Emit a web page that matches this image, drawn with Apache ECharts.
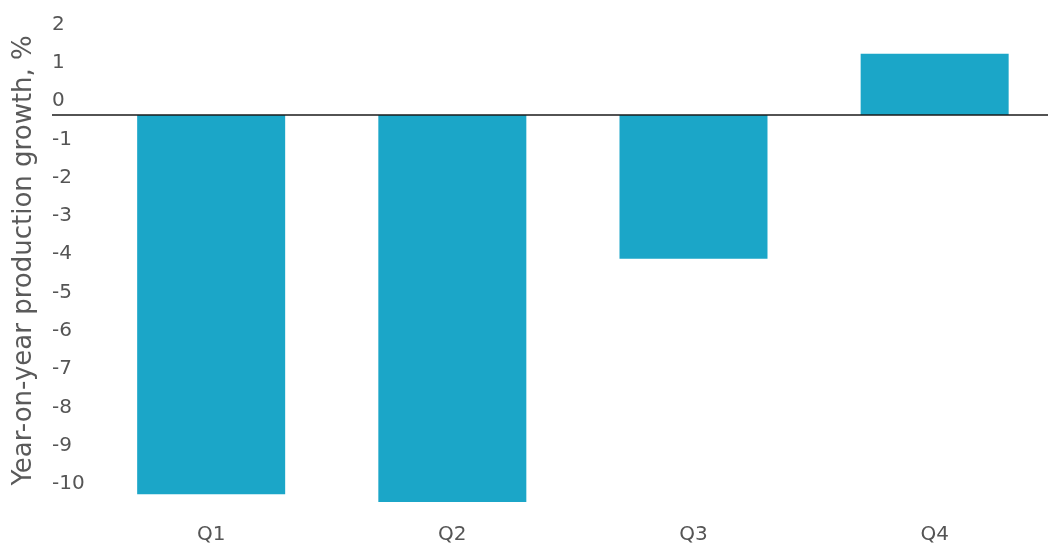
<!DOCTYPE html>
<html>
<head>
<meta charset="utf-8">
<script src="https://cdn.jsdelivr.net/npm/echarts@6/dist/echarts.min.js"></script>
<style>
html,body{margin:0;padding:0;background:#fff;}
#chart{width:1048px;height:546px;}
</style>
</head>
<body>
<div id="chart"></div>
<script>
const categories = ['Q1', 'Q2', 'Q3', 'Q4'];
const growth = [-9.9, -10.1, -3.75, 1.6];
const yTickLabels = [-10, -9, -8, -7, -6, -5, -4, -3, -2, -1, 0, 1, 2];
const yAxisTitle = 'Year-on-year production growth, %';

const positions = categories.map((c, i) => i + 1);
const chart = echarts.init(document.getElementById('chart'), null, {renderer: 'canvas'});
const textFont = '"DejaVu Sans", sans-serif';

chart.setOption({
  animation: false,
  grid: {left: 52, right: 0, top: 38.4, bottom: 9.6, containLabel: false},
  xAxis: {
    type: 'value',
    min: 0.34,
    max: 4.47,
    offset: -20,
    splitLine: {show: false},
    axisLine: {show: false},
    axisTick: {show: false},
    axisLabel: {
      customValues: positions,
      formatter: v => categories[Math.round(v) - 1] || '',
      color: '#555',
      fontSize: 20,
      fontFamily: textFont,
      margin: 8
    }
  },
  yAxis: {
    type: 'value',
    min: -11,
    max: 2,
    interval: 1,
    name: yAxisTitle,
    nameLocation: 'middle',
    nameGap: 15,
    nameTextStyle: {color: '#5a5a5a', fontSize: 26, fontFamily: textFont, padding: [0, 0, 0, 54]},
    splitLine: {show: false},
    axisLine: {show: false},
    axisTick: {show: false},
    axisLabel: {
      inside: true,
      margin: 0,
      color: '#555',
      fontSize: 20,
      fontFamily: textFont,
      verticalAlign: 'bottom',
      lineHeight: 28,
      formatter: v => (yTickLabels.indexOf(v) >= 0 ? String(v) : '')
    }
  },
  series: [{
    type: 'bar',
    data: positions.map((p, i) => [p, growth[i]]),
    barWidth: 148,
    itemStyle: {color: '#1ba6c8'},
    markLine: {
      silent: true,
      symbol: 'none',
      label: {show: false},
      lineStyle: {color: '#1a1a1a', width: 1.5, type: 'solid'},
      data: [{yAxis: 0}]
    }
  }]
});
</script>
</body>
</html>
